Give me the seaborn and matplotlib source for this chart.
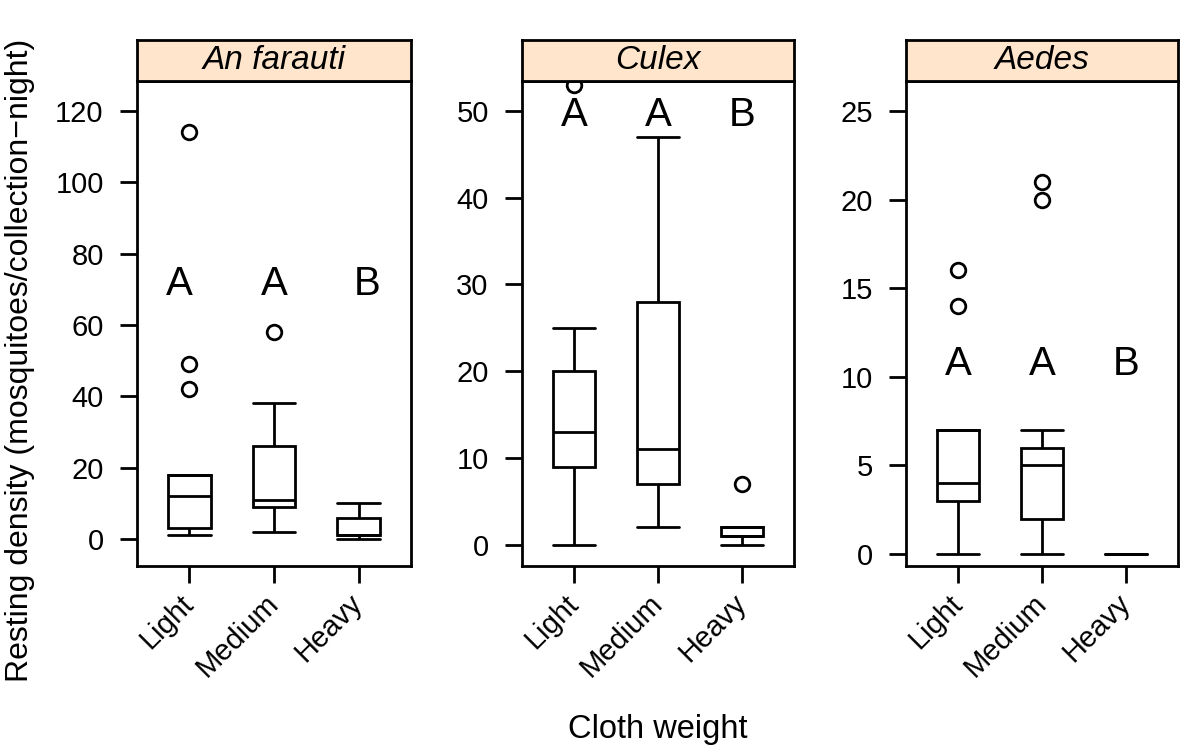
import numpy as np
import pandas as pd
import matplotlib
matplotlib.use('Agg')
import matplotlib.pyplot as plt
import seaborn as sns

species = ['An farauti', 'Culex', 'Aedes']
weights = ['Light', 'Medium', 'Heavy']

# resting counts per collection-night
an_farauti_light = [1, 1, 2, 3, 5, 9, 12, 14, 16, 18, 42, 49, 114]
an_farauti_medium = [2, 5, 9, 10, 11, 20, 26, 38, 58]
an_farauti_heavy = [0, 1, 1, 1, 1, 3, 6, 8, 10]
culex_light = [0, 4, 9, 11, 13, 17, 20, 25, 53]
culex_medium = [2, 4, 7, 9, 11, 19, 28, 36, 47]
culex_heavy = [0, 1, 1, 1, 1, 2, 2, 2, 7]
aedes_light = [0, 2, 3, 3, 4, 5, 7, 14, 16]
aedes_medium = [0, 0, 1, 2, 3, 4, 5, 5, 6, 6, 7, 20, 21]
aedes_heavy = [0, 0, 0, 0, 0, 0, 0, 0, 0]

# significance groups
an_farauti_letters = ['A', 'A', 'B']
culex_letters = ['A', 'A', 'B']
aedes_letters = ['A', 'A', 'B']

counts = {
    'An farauti': [an_farauti_light, an_farauti_medium, an_farauti_heavy],
    'Culex': [culex_light, culex_medium, culex_heavy],
    'Aedes': [aedes_light, aedes_medium, aedes_heavy],
}
letters = {'An farauti': an_farauti_letters, 'Culex': culex_letters, 'Aedes': aedes_letters}

rows = [(sp, w, v) for sp, groups in counts.items()
        for w, vals in zip(weights, groups) for v in vals]
df = pd.DataFrame(rows, columns=['species', 'weight', 'density'])

sns.set_theme(style='ticks', rc={
    'axes.edgecolor': 'black', 'text.color': 'black', 'axes.labelcolor': 'black',
    'xtick.color': 'black', 'ytick.color': 'black',
})
plt.rcParams['font.family'] = ['Liberation Sans', 'DejaVu Sans']

# panel layout
lefts = [0.116, 0.442, 0.7672]
widths = [0.232, 0.2303, 0.2303]
bottom, height, strip_h = 0.2467, 0.6454, 0.0546
ylims = [(-7.5, 128.4), (-2.43, 53.46), (-0.66, 26.69)]
yticks = [range(0, 121, 20), range(0, 51, 10), range(0, 26, 5)]
letter_y = [71.5, 49.5, 10.7]
letter_dx = [(-0.12, 0, 0.1), (0, 0, 0), (0, 0, 0)]
lw = 2.0

fig = plt.figure(figsize=(11.81, 7.51), dpi=100)
for i, sp in enumerate(species):
    ax = fig.add_axes([lefts[i], bottom, widths[i], height])
    sub = df[df['species'] == sp]
    sns.boxplot(
        data=sub, x='weight', y='density', order=weights, ax=ax,
        width=0.5, color='white', linecolor='black', linewidth=lw,
        fliersize=10.5, capwidths=0.5,
        flierprops=dict(marker='o', markerfacecolor='none',
                        markeredgecolor='black', markeredgewidth=2),
    )
    ax.set_xlim(-0.62, 2.62)
    ax.set_ylim(*ylims[i])
    ax.set_yticks(list(yticks[i]))
    ax.set_xticks(range(len(weights)))
    ax.set_xticklabels(weights, rotation=45, ha='right', va='center',
                       rotation_mode='anchor')
    ax.set_xlabel('')
    ax.set_ylabel('')
    ax.tick_params(axis='both', direction='out', length=12, width=lw,
                   labelsize=21)
    ax.tick_params(axis='y', pad=12)
    ax.tick_params(axis='x', pad=12)
    for s in ax.spines.values():
        s.set_linewidth(lw)
        s.set_color('black')
    for j, lab in enumerate(letters[sp]):
        ax.text(j + letter_dx[i][j], letter_y[i], lab, ha='center',
                va='center', fontsize=29)

    strip = fig.add_axes([lefts[i], bottom + height, widths[i], strip_h])
    strip.set_facecolor('#ffe5cc')
    strip.set_xticks([])
    strip.set_yticks([])
    for s in strip.spines.values():
        s.set_linewidth(lw)
        s.set_color('black')
    strip.text(0.5, 0.5, sp, style='italic', fontsize=24, ha='center',
               va='center', transform=strip.transAxes)

fig.text(0.017, 0.52, 'Resting density (mosquitoes/collection\u2212night)',
         rotation=90, ha='center', va='center', fontsize=23)
fig.text(0.557, 0.028, 'Cloth weight', ha='center', va='center', fontsize=23.5)

fig.savefig('out.png', dpi=100)
